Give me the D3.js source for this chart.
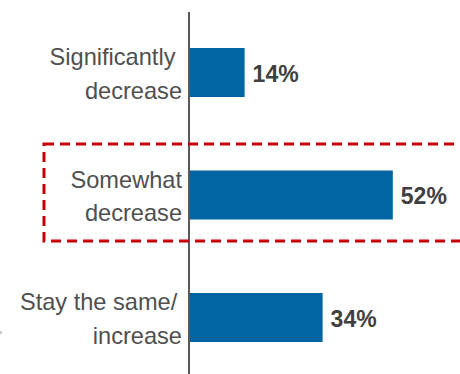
<!DOCTYPE html>
<html>
<head>
<meta charset="utf-8">
<script src="https://cdn.jsdelivr.net/npm/d3@7"></script>
<style>
  body { margin: 0; background: #fff; }
  svg { display: block; font-family: Arial, "Liberation Sans", sans-serif; }
</style>
</head>
<body>
<svg id="chart"></svg>
<script>
// answers and their shares (%)
const categories = ["Significantly decrease", "Somewhat decrease", "Stay the same/ increase"];
const labelLines = [["Significantly\u00a0", "decrease"], ["Somewhat", "decrease"], ["Stay the same/\u2009", "increase"]];
const values = [14, 52, 34];
const highlighted = "Somewhat decrease";

const width = 460, height = 374;
const margin = { left: 190 };

const svg = d3.select("#chart")
    .attr("width", width)
    .attr("height", height);

// horizontal value scale, bars start at the axis line
const xScale = d3.scaleLinear()
    .domain([0, 100])
    .range([margin.left, margin.left + 390]);

// one row per answer
const yScale = d3.scalePoint()
    .domain(categories)
    .range([72.5, 317.5]);

const barH = 49;

const rows = categories.map((c, i) => ({ cat: c, lines: labelLines[i], value: values[i] }));

// bars
svg.selectAll(".bar")
  .data(rows)
  .join("rect")
    .attr("class", "bar")
    .attr("x", xScale(0))
    .attr("y", d => yScale(d.cat) - barH / 2)
    .attr("width", d => xScale(d.value) - xScale(0))
    .attr("height", barH)
    .attr("fill", "#0065a2");

// vertical axis line
svg.append("line")
    .attr("x1", 189).attr("x2", 189)
    .attr("y1", 12).attr("y2", height)
    .attr("stroke", "#595959")
    .attr("stroke-width", 2);

// category labels, two lines each, right aligned
const labels = svg.selectAll(".cat-label")
  .data(rows)
  .join("text")
    .attr("class", "cat-label")
    .attr("text-anchor", "end")
    .attr("fill", "#505050")
    .style("font-size", "23.6px");

labels.selectAll("tspan")
  .data(d => d.lines.map((t, i) => ({ t, i, y: yScale(d.cat) })))
  .join("tspan")
    .attr("x", 182)
    .attr("y", d => d.y - 7.5 + d.i * 33.5)
    .text(d => d.t);

// value labels
svg.selectAll(".val-label")
  .data(rows)
  .join("text")
    .attr("class", "val-label")
    .attr("x", d => xScale(d.value) + 8)
    .attr("y", d => yScale(d.cat) + 9)
    .attr("fill", "#404040")
    .style("font-size", "23px")
    .style("font-weight", "bold")
    .text(d => d.value + "%");

// dashed box around the highlighted row
const hy = yScale(highlighted);
svg.append("rect")
    .attr("x", 44)
    .attr("y", hy - 51)
    .attr("width", 440)
    .attr("height", 97)
    .attr("fill", "none")
    .attr("stroke", "#c8000a")
    .attr("stroke-width", 3)
    .attr("stroke-dasharray", "10,6");

// small grey tick at the left edge
svg.append("rect")
    .attr("x", 0).attr("y", 331)
    .attr("width", 2).attr("height", 3)
    .attr("fill", "#cccccc");
</script>
</body>
</html>
